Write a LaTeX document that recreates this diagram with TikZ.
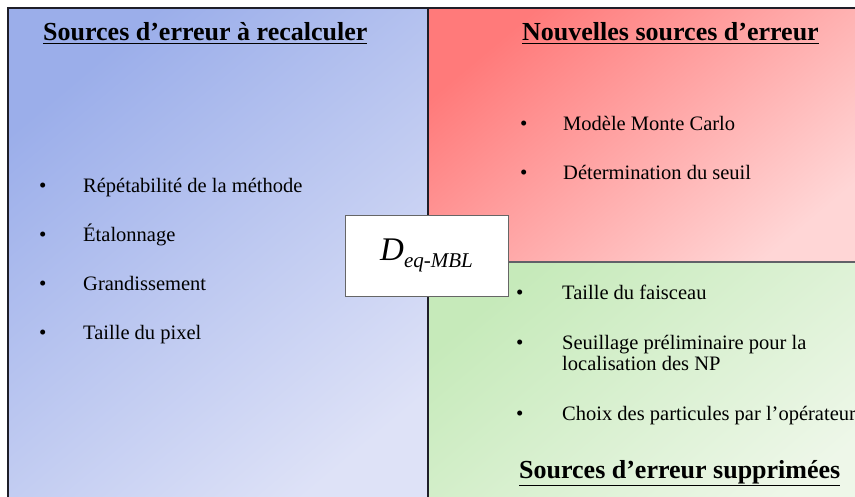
\documentclass[tikz,border=0pt]{standalone}
\usepackage{fontspec}
\setmainfont{Liberation Serif}
\usetikzlibrary{positioning}

\definecolor{bleuA}{RGB}{155,174,234}
\definecolor{bleuB}{RGB}{222,226,247}
\definecolor{rougeA}{RGB}{255,122,122}
\definecolor{rougeB}{RGB}{255,214,214}
\definecolor{vertA}{RGB}{198,234,186}
\definecolor{vertB}{RGB}{238,247,233}
\definecolor{bord}{RGB}{30,30,40}

\tikzset{
  panneau/.style={draw=bord, line width=1.4pt},
  titre/.style={anchor=base west, inner sep=0pt, font=\fontsize{26}{30}\selectfont\bfseries},
  puce/.style={anchor=base west, inner sep=0pt, font=\fontsize{21}{21}\selectfont},
  texte/.style={anchor=base west, inner sep=0pt, font=\fontsize{20.5}{21}\selectfont},
}

\begin{document}
\begin{tikzpicture}[x=1pt, y=-1pt]
  \useasboundingbox (0,0) rectangle (855,497);
  \clip (0,0) rectangle (855,497);

  % panneaux
  \draw[panneau, top color=bleuA, bottom color=bleuB, shading angle=40] (8,8) rectangle (428,520);
  \draw[panneau, top color=rougeA, bottom color=rougeB, shading angle=40] (428,8) rectangle (870,262);
  \draw[panneau, draw=bord!70, top color=vertA, bottom color=vertB, shading angle=40] (428,262) rectangle (870,520);
  \draw[panneau] (428,8) -- (428,520);

  % titres
  \node[titre] (tRecalc) at (43,41) {\underline{Sources d’erreur à recalculer}};
  \node[titre] (tNouv) at (522,41) {\underline{Nouvelles sources d’erreur}};
  \node[titre] (tSuppr) at (519,478) {\underline{Sources d’erreur supprimées}};

  % sources a recalculer
  \node[puce] (p1) at (39,193) {\textbullet};
  \node[texte] (r1) at (83,193) {Répétabilité de la méthode};
  \node[puce] (p2) at (39,242) {\textbullet};
  \node[texte] (r2) at (83,242) {Étalonnage};
  \node[puce] (p3) at (39,291) {\textbullet};
  \node[texte] (r3) at (83,291) {Grandissement};
  \node[puce] (p4) at (39,340) {\textbullet};
  \node[texte] (r4) at (83,340) {Taille du pixel};

  % nouvelles sources
  \node[puce] (p5) at (520,131) {\textbullet};
  \node[texte] (n1) at (563,131) {Modèle Monte Carlo};
  \node[puce] (p6) at (520,180) {\textbullet};
  \node[texte] (n2) at (563,180) {Détermination du seuil};

  % sources supprimees
  \node[puce] (p7) at (516,300) {\textbullet};
  \node[texte] (s1) at (562,300) {Taille du faisceau};
  \node[puce] (p8) at (516,349) {\textbullet};
  \node[texte] (s2) at (562,349) {\begin{tabular}[t]{@{}l@{}}Seuillage préliminaire pour la\\localisation des NP\end{tabular}};
  \node[puce] (p9) at (516,420) {\textbullet};
  \node[texte] (s3) at (562,420) {Choix des particules par l’opérateur};

  % grandeur centrale
  \node[draw=black!60, line width=0.6pt, fill=white, minimum width=163pt, minimum height=81pt, inner sep=0pt]
    (deq) at (426.5,255.5) {\fontsize{33}{33}\selectfont\itshape D\raisebox{-7.5pt}{\fontsize{21}{21}\selectfont eq-MBL}};
\end{tikzpicture}
\end{document}
